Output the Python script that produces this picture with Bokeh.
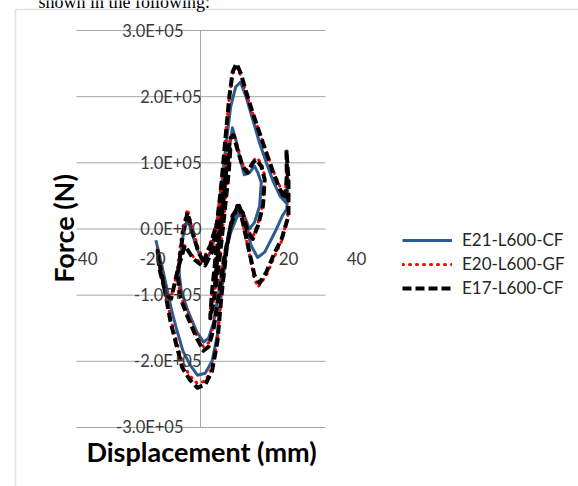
from bokeh.plotting import figure
from bokeh.models import (ColumnDataSource, LabelSet, Label, Legend, LegendItem, BoxAnnotation)
from bokeh.core.properties import value
from bokeh.embed import file_html
from bokeh.resources import INLINE

# Cyclic load tests: displacement (mm) and force (N)
e21_disp = [0.0, 0.8, 1.5, 1.1, 0.0, -0.9, -1.6, -1.2, -0.2, 1.0, 2.3, 3.5, 4.5, 5.8, 7.0, 8.5,
            10.0, 11.0, 12.0, 11.5, 10.0, 8.5, 7.0, 5.0, 3.0, 1.2, -0.5, -2.0, -3.5, -5.0, -7.0,
            -9.5, -11.5, -12.3, -11.0, -9.7, -8.5, -6.5, -4.5, -2.5, -1.0, 0.5, 1.8, 3.0, 4.5,
            5.9, 7.5, 9.5, 11.5, 13.5, 15.5, 17.5, 19.2, 19.7, 19.5, 19.8, 19.5, 18.2, 16.0,
            13.0, 10.9, 9.0, 7.5, 5.9, 3.5, 1.8, 0.3, -0.9, -2.5, -4.5, -6.8, -9.0, -11.0,
            -13.0, -14.5, -15.6, -17.5, -19.0]
e21_force = [0.0, 0.40e5, 0.75e5, 0.45e5, -0.05e5, -0.45e5, -0.80e5, -0.50e5, 0.0, 0.60e5,
             1.10e5, 1.53e5, 1.35e5, 1.05e5, 0.82e5, 0.85e5, 0.95e5, 0.85e5, 0.70e5, 0.35e5,
             0.10e5, 0.0, 0.20e5, 0.20e5, -0.05e5, -0.40e5, -0.95e5, -1.40e5, -1.65e5, -1.71e5,
             -1.55e5, -1.25e5, -0.95e5, -0.60e5, -0.10e5, 0.16e5, -0.05e5, -0.35e5, -0.50e5,
             -0.30e5, 0.10e5, 0.75e5, 1.35e5, 1.85e5, 2.15e5, 2.22e5, 2.00e5, 1.65e5, 1.30e5,
             1.00e5, 0.72e5, 0.50e5, 0.40e5, 0.70e5, 0.95e5, 0.55e5, 0.30e5, 0.20e5, -0.05e5,
             -0.35e5, -0.43e5, -0.25e5, 0.05e5, 0.28e5, 0.15e5, -0.30e5, -0.95e5, -1.60e5,
             -2.00e5, -2.18e5, -2.21e5, -2.05e5, -1.85e5, -1.50e5, -1.20e5, -0.93e5, -0.50e5,
             -0.17e5]

e20_disp = [0.0, 0.8, 1.5, 1.2, 0.2, -0.8, -1.6, -1.3, -0.3, 0.9, 2.2, 2.9, 2.4, 1.0, -0.6,
            -2.2, -3.1, -2.6, -1.2, 0.3, 1.8, 3.0, 3.9, 5.0, 6.5, 8.0, 9.5, 10.5, 12.0, 13.0,
            12.5, 11.0, 9.5, 8.0, 6.5, 5.0, 3.0, 1.2, -0.5, -2.0, -3.5, -5.0, -7.0, -9.5, -11.8,
            -12.8, -11.2, -9.7, -8.5, -6.5, -4.5, -2.5, -1.0, 0.3, 1.5, 2.6, 3.6, 4.6, 6.0, 7.5,
            9.5, 11.5, 13.5, 15.5, 17.5, 19.0, 19.5, 19.4, 20.0, 20.0, 18.0, 16.0, 13.5, 11.0,
            9.8, 8.5, 7.0, 5.5, 3.5, 1.8, 0.3, -0.9, -2.5, -4.5, -6.9, -9.0, -11.2, -13.0,
            -14.7, -16.5, -17.8, -18.6, -18.0, -16.0, -14.5, -12.5, -10.5, -8.0, -5.5, -3.0,
            -1.0]
e20_force = [0.0, 0.48e5, 0.85e5, 0.58e5, 0.05e5, -0.48e5, -0.88e5, -0.62e5, -0.05e5,
             0.62e5, 1.08e5, 1.25e5, 0.88e5, 0.18e5, -0.58e5, -1.12e5, -1.30e5, -0.98e5,
             -0.28e5, 0.42e5, 1.12e5, 1.40e5, 1.45e5, 1.25e5, 0.98e5, 0.88e5, 1.02e5, 1.08e5,
             1.00e5, 0.80e5, 0.38e5, 0.08e5, -0.12e5, -0.02e5, 0.28e5, 0.38e5, 0.08e5,
             -0.38e5, -0.98e5, -1.45e5, -1.72e5, -1.78e5, -1.60e5, -1.30e5, -1.00e5, -0.65e5,
             0.0, 0.30e5, 0.05e5, -0.30e5, -0.50e5, -0.30e5, 0.12e5, 0.72e5, 1.42e5, 2.00e5,
             2.35e5, 2.45e5, 2.32e5, 2.06e5, 1.74e5, 1.46e5, 1.16e5, 0.88e5, 0.64e5, 0.50e5,
             0.85e5, 1.22e5, 0.78e5, 0.25e5, -0.18e5, -0.40e5, -0.70e5, -0.88e5, -0.72e5,
             -0.38e5, -0.02e5, 0.33e5, 0.18e5, -0.32e5, -1.00e5, -1.68e5, -2.10e5, -2.30e5,
             -2.33e5, -2.22e5, -2.02e5, -1.68e5, -1.35e5, -0.85e5, -0.50e5, -0.30e5, -0.58e5,
             -0.98e5, -1.02e5, -0.62e5, -0.25e5, -0.42e5, -0.52e5, -0.22e5, 0.12e5]

e17_disp = [0.0, 0.8, 1.5, 1.2, 0.2, -0.8, -1.6, -1.3, -0.3, 0.9, 2.2, 2.9, 2.4, 1.0, -0.6,
            -2.2, -3.0, -2.6, -1.2, 0.3, 1.8, 3.0, 3.8, 5.0, 6.5, 8.0, 9.5, 10.5, 12.0, 13.0,
            12.5, 11.0, 9.5, 8.0, 6.5, 5.0, 3.0, 1.2, -0.5, -2.0, -3.5, -5.0, -7.0, -9.5, -11.8,
            -12.6, -11.0, -9.7, -8.5, -6.5, -4.5, -2.5, -1.0, 0.3, 1.5, 2.6, 3.6, 4.7, 6.0, 7.5,
            9.5, 11.5, 13.5, 15.5, 17.5, 19.0, 19.5, 19.4, 20.0, 20.0, 18.0, 16.0, 13.5, 11.5,
            10.0, 8.5, 7.0, 5.5, 3.5, 1.8, 0.3, -0.9, -2.5, -4.5, -6.8, -9.0, -11.2, -13.0,
            -14.7, -16.5, -17.8, -18.5, -18.0, -16.0, -14.5, -12.5, -10.5, -8.0, -5.5, -3.0,
            -1.0]
e17_force = [0.0, 0.45e5, 0.80e5, 0.55e5, 0.05e5, -0.45e5, -0.85e5, -0.60e5, -0.05e5,
             0.60e5, 1.05e5, 1.20e5, 0.85e5, 0.15e5, -0.60e5, -1.15e5, -1.35e5, -1.00e5,
             -0.30e5, 0.40e5, 1.10e5, 1.38e5, 1.42e5, 1.20e5, 0.95e5, 0.85e5, 1.00e5, 1.05e5,
             0.95e5, 0.75e5, 0.35e5, 0.05e5, -0.15e5, -0.05e5, 0.25e5, 0.35e5, 0.05e5,
             -0.40e5, -1.00e5, -1.50e5, -1.78e5, -1.84e5, -1.65e5, -1.35e5, -1.04e5, -0.70e5,
             -0.05e5, 0.25e5, 0.0, -0.35e5, -0.55e5, -0.35e5, 0.10e5, 0.70e5, 1.40e5, 2.00e5,
             2.38e5, 2.50e5, 2.35e5, 2.08e5, 1.75e5, 1.45e5, 1.15e5, 0.85e5, 0.60e5, 0.45e5,
             0.80e5, 1.19e5, 0.75e5, 0.20e5, -0.15e5, -0.35e5, -0.65e5, -0.82e5, -0.70e5,
             -0.35e5, 0.0, 0.35e5, 0.20e5, -0.30e5, -1.00e5, -1.70e5, -2.15e5, -2.35e5,
             -2.40e5, -2.28e5, -2.10e5, -1.75e5, -1.40e5, -0.90e5, -0.55e5, -0.33e5, -0.60e5,
             -1.00e5, -1.05e5, -0.60e5, -0.25e5, -0.45e5, -0.55e5, -0.25e5, 0.10e5]

series_names = ["E21-L600-CF", "E20-L600-GF", "E17-L600-CF"]

y_ticks = [-3e5, -2e5, -1e5, 0, 1e5, 2e5, 3e5]
y_tick_labels = ["-3.0E+05", "-2.0E+05", "-1.0E+05", "0.0E+00", "1.0E+05", "2.0E+05", "3.0E+05"]
x_ticks = [-40, -20, 20, 40]
x_tick_labels = ["-40", "-20", "20", "40"]

W, H = 578, 486
FONT = "Lato"
GRID = "#a6a6a6"
TICK_TEXT = "#3a3a3a"

# the plotting frame fills the whole canvas; these ranges put 0 mm / 0 N at
# the crossing point and give 3.4 px per mm and 397 px per 6e5 N
X0, X1 = -64.706, 105.294
Y0, Y1 = -389170.0, 345341.0


def px_x(px):
    """Canvas x (pixels from left) to displacement units."""
    return X0 + px * (X1 - X0) / W


def px_y(py):
    """Canvas y (pixels from top) to force units."""
    return Y1 - py * (Y1 - Y0) / H


GRID_LEFT, GRID_RIGHT = px_x(76), px_x(325)
AXIS_X = px_x(200)

p = figure(width=W, height=H, x_range=(X0, X1), y_range=(Y0, Y1),
           output_backend="svg", toolbar_location=None,
           x_axis_location=None, y_axis_location=None,
           min_border=0, min_border_left=0, min_border_right=0,
           min_border_top=0, min_border_bottom=0)
p.outline_line_color = None
p.grid.visible = False
p.background_fill_color = "white"
p.border_fill_color = "white"

# horizontal gridlines and the vertical axis line
p.segment(x0=[GRID_LEFT] * len(y_ticks), x1=[GRID_RIGHT] * len(y_ticks),
          y0=y_ticks, y1=y_ticks, line_color=GRID, line_width=1)
p.segment(x0=[AXIS_X], x1=[AXIS_X], y0=[y_ticks[0]], y1=[y_ticks[-1]],
          line_color=GRID, line_width=1)

# outer frame of the chart area (left and top edges)
p.add_layout(BoxAnnotation(left=px_x(15), right=px_x(W + 30), top=px_y(9), bottom=px_y(H + 30),
                           fill_alpha=0, line_color="#9a9a9a", line_width=1.5))

# hysteresis curves
r21 = p.line(e21_disp, e21_force, line_color="#2E5C8E", line_width=3, line_join="round")
r20 = p.line(e20_disp, e20_force, line_color="#ff0000", line_width=3, line_dash="1 6",
             line_cap="round", line_join="round")
r17 = p.line(e17_disp, e17_force, line_color="black", line_width=4, line_dash="9 4",
             line_join="round")

# force tick labels beside the vertical axis
ysrc = ColumnDataSource(dict(
    x=[AXIS_X] * len(y_ticks), y=y_ticks, text=y_tick_labels,
    dx=[-17 if abs(t) >= 3e5 else 1 for t in y_ticks]))
p.add_layout(LabelSet(x="x", y="y", text="text", source=ysrc, x_offset="dx",
                      text_align="right", text_baseline="middle",
                      text_font=value(FONT), text_font_size=value("16.5px"),
                      text_color=TICK_TEXT))

xsrc = ColumnDataSource(dict(x=x_ticks, y=[px_y(258)] * len(x_ticks), text=x_tick_labels))
p.add_layout(LabelSet(x="x", y="y", text="text", source=xsrc,
                      text_align="center", text_baseline="middle",
                      text_font=value(FONT), text_font_size=value("17px"),
                      text_color=TICK_TEXT))

# axis titles
p.add_layout(Label(x=px_x(63), y=px_y(228), text="Force (N)",
                   angle=90, angle_units="deg", text_align="center", text_baseline="middle",
                   text_font=FONT, text_font_style="bold", text_font_size="27px",
                   text_color="black"))
p.add_layout(Label(x=px_x(201), y=px_y(451), text="Displacement (mm)",
                   text_align="center", text_baseline="middle",
                   text_font=FONT, text_font_style="bold", text_font_size="27px",
                   text_color="black"))

# running text above the chart
p.add_layout(Label(x=px_x(38), y=px_y(1), text="shown in the following:", text_align="left",
                   text_baseline="alphabetic", text_font="Liberation Serif",
                   text_font_size="18px", text_color="black"))

legend = Legend(items=[LegendItem(label=n, renderers=[r]) for n, r in
                       zip(series_names, [r21, r20, r17])],
                location=(402, 188), orientation="vertical",
                glyph_width=50, glyph_height=20, label_standoff=10, spacing=3,
                padding=0, margin=0, border_line_color=None, background_fill_alpha=0,
                label_text_font=FONT, label_text_font_size="17px", label_text_color="#262626")
p.add_layout(legend)

open("out.html", "w").write(file_html(p, INLINE))
